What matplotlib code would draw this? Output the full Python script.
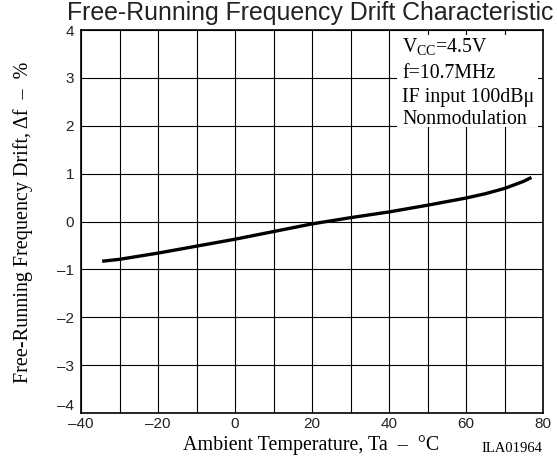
import matplotlib
matplotlib.use("Agg")
import matplotlib.pyplot as plt
from matplotlib.patches import Rectangle

plt.rcParams['font.family'] = ['Liberation Sans', 'DejaVu Sans']
plt.rcParams['mathtext.fontset'] = 'custom'
plt.rcParams['mathtext.rm'] = 'Liberation Serif'

# ambient temperature (deg C) vs frequency drift (%)
temp = [-34.5, -30, -20, -10, 0, 10, 20, 30, 40, 50, 60, 65, 70, 75, 77]
drift = [-0.83, -0.79, -0.66, -0.515, -0.37, -0.21, -0.05, 0.08, 0.20, 0.34, 0.49, 0.58, 0.69, 0.84, 0.92]

xticks = [-40, -20, 0, 20, 40, 60, 80]
yticks = [-4, -3, -2, -1, 0, 1, 2, 3, 4]
notes = ["V$_{\\mathrm{CC}}$=4.5V", "f=10.7MHz", "IF input 100dB\u03bc", "Nonmodulation"]

serif = ['Liberation Serif', 'DejaVu Serif']

fig = plt.figure(figsize=(5.57, 4.63), dpi=100)
ax = fig.add_axes([81/557, 50/463, 462/557, 383/463])

ax.set_xlim(-40, 80)
ax.set_ylim(-4, 4)
ax.set_xticks(xticks)
ax.set_xticks(range(-40, 81, 10), minor=True)
ax.set_yticks(yticks)
ax.set_xticklabels([str(t).replace('-', '\u2013') for t in xticks])
ax.set_yticklabels([str(t).replace('-', '\u2013') for t in yticks])
ax.tick_params(which='both', length=0, labelsize=11, colors='#222222')
ax.tick_params(axis='x', pad=3)
ax.tick_params(axis='y', pad=5)
# bottom y label sits just above the corner
ax.get_yticklabels()[0].set_va('bottom')
ax.set_axisbelow(True)
ax.grid(which='both', color='black', linewidth=0.8)
for s in ax.spines.values():
    s.set_linewidth(1.2)

# white box for the conditions
ax.add_patch(Rectangle((42, 1.97), 36.8, 1.93, facecolor='white', edgecolor='none', zorder=1))
ypos = [3.63, 3.1, 2.58, 2.13]
for t, yy in zip(notes, ypos):
    ax.text(43.5, yy, t, family=serif, fontsize=14.3, va='center', ha='left', zorder=3)

ax.plot(temp, drift, color='black', linewidth=2.4, zorder=2, solid_capstyle='butt')

fig.text(310/557, 1 - 13/463, "Free-Running Frequency Drift Characteristic", fontsize=17.9,
         ha='center', va='center', color='#222222')
fig.text(311/557, 1 - 445/463, "Ambient Temperature, Ta  \u2013  \u00b0C", family=serif,
         fontsize=14.4, ha='center', va='center')
fig.text(512/557, 1 - 449/463, "ILA01964", family=serif, fontsize=10.5, ha='center', va='center')
fig.text(23/557, 1 - 222/463, "Free-Running Frequency Drift, \u0394f  \u2013  %", family=serif,
         fontsize=14.5, ha='center', va='center', rotation=90)

plt.savefig("out.png", dpi=100)
